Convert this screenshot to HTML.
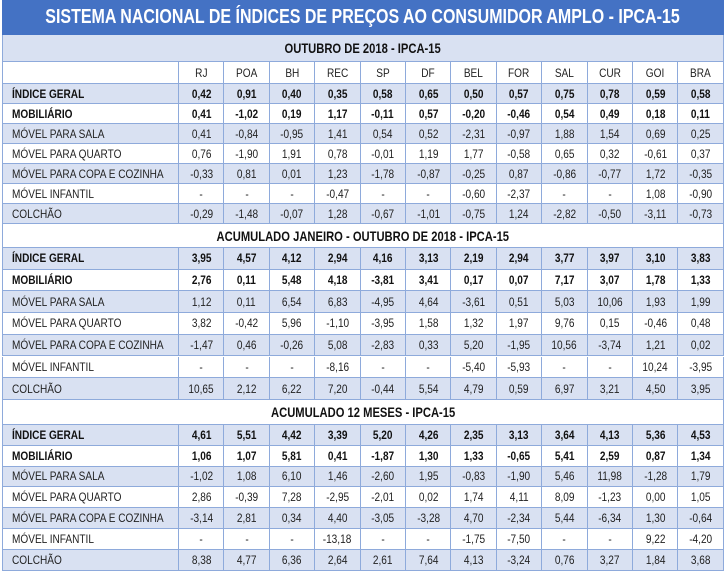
<!DOCTYPE html>
<html><head><meta charset="utf-8"><style>
body{margin:0;width:728px;height:572px;background:#fff;overflow:hidden;font-family:"Liberation Sans",sans-serif;}
#t{position:absolute;left:2px;top:0;width:722px;}
.c{position:absolute;box-sizing:border-box;border-right:1px solid #8eaadb;border-bottom:1px solid #8eaadb;display:flex;align-items:center;justify-content:center;font-size:12px;color:#222;white-space:nowrap;}
.c span{display:inline-block;transform:scaleX(.84);transform-origin:center;}
.l{justify-content:flex-start;padding-left:9px;}
.l span{transform-origin:left center;}
.b{font-weight:bold;color:#111;}
.title{position:absolute;left:0;top:0;width:722px;height:35px;background:#4472c4;color:#fff;font-weight:bold;font-size:20px;display:flex;align-items:center;justify-content:center;white-space:nowrap;}
.title span,.sh span{display:inline-block;transform:scaleX(.8);transform-origin:center;}
.sh{position:absolute;left:0;width:722px;box-sizing:border-box;border-left:1px solid #8eaadb;border-right:1px solid #8eaadb;border-bottom:1px solid #8eaadb;font-weight:bold;font-size:14px;display:flex;align-items:center;justify-content:center;color:#111;white-space:nowrap;}
</style></head><body>
<div id="t">
<div class="title"><span>SISTEMA NACIONAL DE ÍNDICES DE PREÇOS AO CONSUMIDOR AMPLO - IPCA-15</span></div>
</div>
<script>
const cities=["RJ","POA","BH","REC","SP","DF","BEL","FOR","SAL","CUR","GOI","BRA"];
const rowLabels=["ÍNDICE GERAL","MOBILIÁRIO","MÓVEL PARA SALA","MÓVEL PARA QUARTO","MÓVEL PARA COPA E COZINHA","MÓVEL INFANTIL","COLCHÃO"];
const sectionTitles=["OUTUBRO DE 2018 - IPCA-15","ACUMULADO JANEIRO - OUTUBRO DE 2018 - IPCA-15","ACUMULADO 12 MESES - IPCA-15"];
const sec1=[
["0,42","0,91","0,40","0,35","0,58","0,65","0,50","0,57","0,75","0,78","0,59","0,58"],
["0,41","-1,02","0,19","1,17","-0,11","0,57","-0,20","-0,46","0,54","0,49","0,18","0,11"],
["0,41","-0,84","-0,95","1,41","0,54","0,52","-2,31","-0,97","1,88","1,54","0,69","0,25"],
["0,76","-1,90","1,91","0,78","-0,01","1,19","1,77","-0,58","0,65","0,32","-0,61","0,37"],
["-0,33","0,81","0,01","1,23","-1,78","-0,87","-0,25","0,87","-0,86","-0,77","1,72","-0,35"],
["-","-","-","-0,47","-","-","-0,60","-2,37","-","-","1,08","-0,90"],
["-0,29","-1,48","-0,07","1,28","-0,67","-1,01","-0,75","1,24","-2,82","-0,50","-3,11","-0,73"]];
const sec2=[
["3,95","4,57","4,12","2,94","4,16","3,13","2,19","2,94","3,77","3,97","3,10","3,83"],
["2,76","0,11","5,48","4,18","-3,81","3,41","0,17","0,07","7,17","3,07","1,78","1,33"],
["1,12","0,11","6,54","6,83","-4,95","4,64","-3,61","0,51","5,03","10,06","1,93","1,99"],
["3,82","-0,42","5,96","-1,10","-3,95","1,58","1,32","1,97","9,76","0,15","-0,46","0,48"],
["-1,47","0,46","-0,26","5,08","-2,83","0,33","5,20","-1,95","10,56","-3,74","1,21","0,02"],
["-","-","-","-8,16","-","-","-5,40","-5,93","-","-","10,24","-3,95"],
["10,65","2,12","6,22","7,20","-0,44","5,54","4,79","0,59","6,97","3,21","4,50","3,95"]];
const sec3=[
["4,61","5,51","4,42","3,39","5,20","4,26","2,35","3,13","3,64","4,13","5,36","4,53"],
["1,06","1,07","5,81","0,41","-1,87","1,30","1,33","-0,65","5,41","2,59","0,87","1,34"],
["-1,02","1,08","6,10","1,46","-2,60","1,95","-0,83","-1,90","5,46","11,98","-1,28","1,79"],
["2,86","-0,39","7,28","-2,95","-2,01","0,02","1,74","4,11","8,09","-1,23","0,00","1,05"],
["-3,14","2,81","0,34","4,40","-3,05","-3,28","4,70","-2,34","5,44","-6,34","1,30","-0,64"],
["-","-","-","-13,18","-","-","-1,75","-7,50","-","-","9,22","-4,20"],
["8,38","4,77","6,36","2,64","2,61","7,64","4,13","-3,24","0,76","3,27","1,84","3,68"]];
const sections=[sec1,sec2,sec3];
const t=document.getElementById('t');
const LW=177,CW=45.4;
const hdrTop=[35,224,400],hdrH=[27,24,25],rowStart=[84,248,425],rowH=[20,21.7,20.8];
function cell(x,y,w,h,txt,cls,bg){const d=document.createElement('div');d.className='c '+cls;d.style.left=x+'px';d.style.top=y+'px';d.style.width=w+'px';d.style.height=h+'px';d.style.background=bg;const sp=document.createElement('span');sp.textContent=txt;d.appendChild(sp);if(x===0)d.style.borderLeft='1px solid #8eaadb';t.appendChild(d);return d;}
sections.forEach((data,s)=>{
 const h=document.createElement('div');h.className='sh';h.style.top=hdrTop[s]+'px';h.style.height=hdrH[s]+'px';h.style.background=s===0?'#d9e1f2':'#fff';
 const hs=document.createElement('span');hs.textContent=sectionTitles[s];h.appendChild(hs);
 
 
 t.appendChild(h);
 if(s===0){
  const e=cell(0,62,LW,22,'','l','#fff');
  
  
  cities.forEach((c,j)=>{const d=cell(LW+j*CW,62,CW,22,c,'','#fff');
   
   });
 }
 data.forEach((row,i)=>{
  const y=rowStart[s]+i*rowH[s],bg=i%2===0?'#d9e1f2':'#fff',b=i<2?'b':'';
  const l=cell(0,y,LW,rowH[s],rowLabels[i],'l '+b,bg);
  
  
  row.forEach((v,j)=>{const d=cell(LW+j*CW,y,CW,rowH[s],v,b,bg);
   
   });
 });
});
</script>
</body></html>
